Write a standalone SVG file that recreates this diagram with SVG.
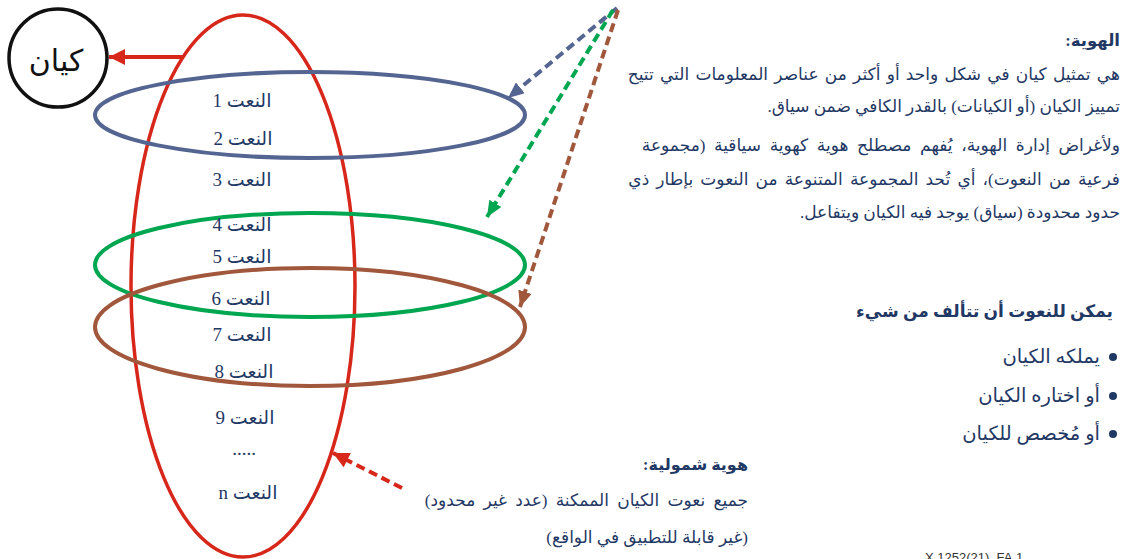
<svg xmlns="http://www.w3.org/2000/svg" width="1128" height="559" viewBox="0 0 1128 559">
<style>
.t{font-family:"Liberation Serif","DejaVu Sans",serif;fill:#1F3864;direction:rtl;}
.r{text-anchor:start;font-size:17px;}
.b{font-weight:bold;}
.lab{font-size:19px;text-anchor:middle;}
.dash{fill:none;stroke-width:4;stroke-dasharray:9 5;}
</style>
<defs>
<marker id="mBlue" markerUnits="userSpaceOnUse" markerWidth="18" markerHeight="14" refX="16" refY="7" orient="auto"><path d="M0,0 L16,7 L0,14 z" fill="#546591"/></marker>
<marker id="mGreen" markerUnits="userSpaceOnUse" markerWidth="18" markerHeight="14" refX="16" refY="7" orient="auto"><path d="M0,0 L16,7 L0,14 z" fill="#00A650"/></marker>
<marker id="mBrown" markerUnits="userSpaceOnUse" markerWidth="18" markerHeight="14" refX="16" refY="7" orient="auto"><path d="M0,0 L16,7 L0,14 z" fill="#A0573B"/></marker>
<marker id="mRed" markerUnits="userSpaceOnUse" markerWidth="18" markerHeight="16" refX="16" refY="8" orient="auto"><path d="M0,0 L16,8 L0,16 z" fill="#D7261A"/></marker>
</defs>
<rect width="1128" height="559" fill="#fff"/>

<g id="entity">
<circle cx="58" cy="58" r="49" fill="#fff" stroke="#111" stroke-width="3.5"/>
<text x="56" y="71" font-family="Liberation Serif, DejaVu Sans, serif" font-size="30" text-anchor="middle" fill="#111" direction="rtl">كيان</text>
</g>

<g id="fullIdentity">
<ellipse cx="243" cy="286" rx="112" ry="271" fill="none" stroke="#D7261A" stroke-width="3.5"/>
</g>
<g id="identity1">
<ellipse cx="310" cy="115" rx="215" ry="43" fill="none" stroke="#546591" stroke-width="4"/>
</g>
<g id="identity2">
<ellipse cx="310" cy="265" rx="215" ry="52" fill="none" stroke="#00A650" stroke-width="4"/>
</g>
<g id="identity3">
<ellipse cx="310" cy="327" rx="215" ry="59" fill="none" stroke="#A0573B" stroke-width="4"/>
</g>

<g id="attributes" class="t lab">
<text x="242" y="107">النعت 1</text>
<text x="243" y="145">النعت 2</text>
<text x="242" y="186">النعت 3</text>
<text x="242" y="231">النعت 4</text>
<text x="242" y="263">النعت 5</text>
<text x="241" y="305">النعت 6</text>
<text x="242" y="341">النعت 7</text>
<text x="244" y="378">النعت 8</text>
<text x="245" y="424">النعت 9</text>
<text x="244" y="455">.....</text>
<text x="248" y="499">النعت n</text>
</g>

<g id="connectors">
<line x1="183" y1="57" x2="109" y2="57" stroke="#D7261A" stroke-width="4" marker-end="url(#mRed)"/>
<line class="dash" x1="617" y1="8" x2="508" y2="98" stroke="#546591" marker-end="url(#mBlue)"/>
<line class="dash" x1="613" y1="10" x2="487" y2="217" stroke="#00A650" marker-end="url(#mGreen)"/>
<line class="dash" x1="618" y1="10" x2="520" y2="307" stroke="#A0573B" marker-end="url(#mBrown)"/>
<line class="dash" x1="402" y1="488" x2="333" y2="453" stroke="#D7261A" marker-end="url(#mRed)"/>
</g>

<g id="identityText" class="t r">
<text x="1120" y="46" class="b" font-size="16.5">الهوية:</text>
<text x="1120" y="80" word-spacing="2">هي تمثيل كيان في شكل واحد أو أكثر من عناصر المعلومات التي تتيح</text>
<text x="1120" y="112">تمييز الكيان (أو الكيانات) بالقدر الكافي ضمن سياق.</text>
<text x="1120" y="151" word-spacing="4.4">ولأغراض إدارة الهوية، يُفهم مصطلح هوية كهوية سياقية (مجموعة</text>
<text x="1120" y="185" word-spacing="2.9">فرعية من النعوت)، أي تُحد المجموعة المتنوعة من النعوت بإطار ذي</text>
<text x="1120" y="218">حدود محدودة (سياق) يوجد فيه الكيان ويتفاعل.</text>
</g>

<g id="attributesText" class="t r">
<text x="1113" y="317" class="b" font-size="17">يمكن للنعوت أن تتألف من شيء</text>
<circle cx="1113" cy="357" r="4" fill="#1F3864"/>
<circle cx="1113" cy="396" r="4" fill="#1F3864"/>
<circle cx="1113" cy="434" r="4" fill="#1F3864"/>
<text x="1100" y="363" font-size="19.5">يملكه الكيان</text>
<text x="1100" y="402" font-size="19.5">أو اختاره الكيان</text>
<text x="1100" y="440" font-size="19.5">أو مُخصص للكيان</text>
</g>

<g id="fullText" class="t r">
<text x="748" y="470" class="b" font-size="16">هوية شمولية:</text>
<text x="748" y="506" word-spacing="4">جميع نعوت الكيان الممكنة (عدد غير محدود)</text>
<text x="748" y="543">(غير قابلة للتطبيق في الواقع)</text>
</g>

<text x="925" y="562" font-family="Liberation Sans, Arial, sans-serif" font-size="13" fill="#333">X.1252(21)_FA.1</text>
</svg>
